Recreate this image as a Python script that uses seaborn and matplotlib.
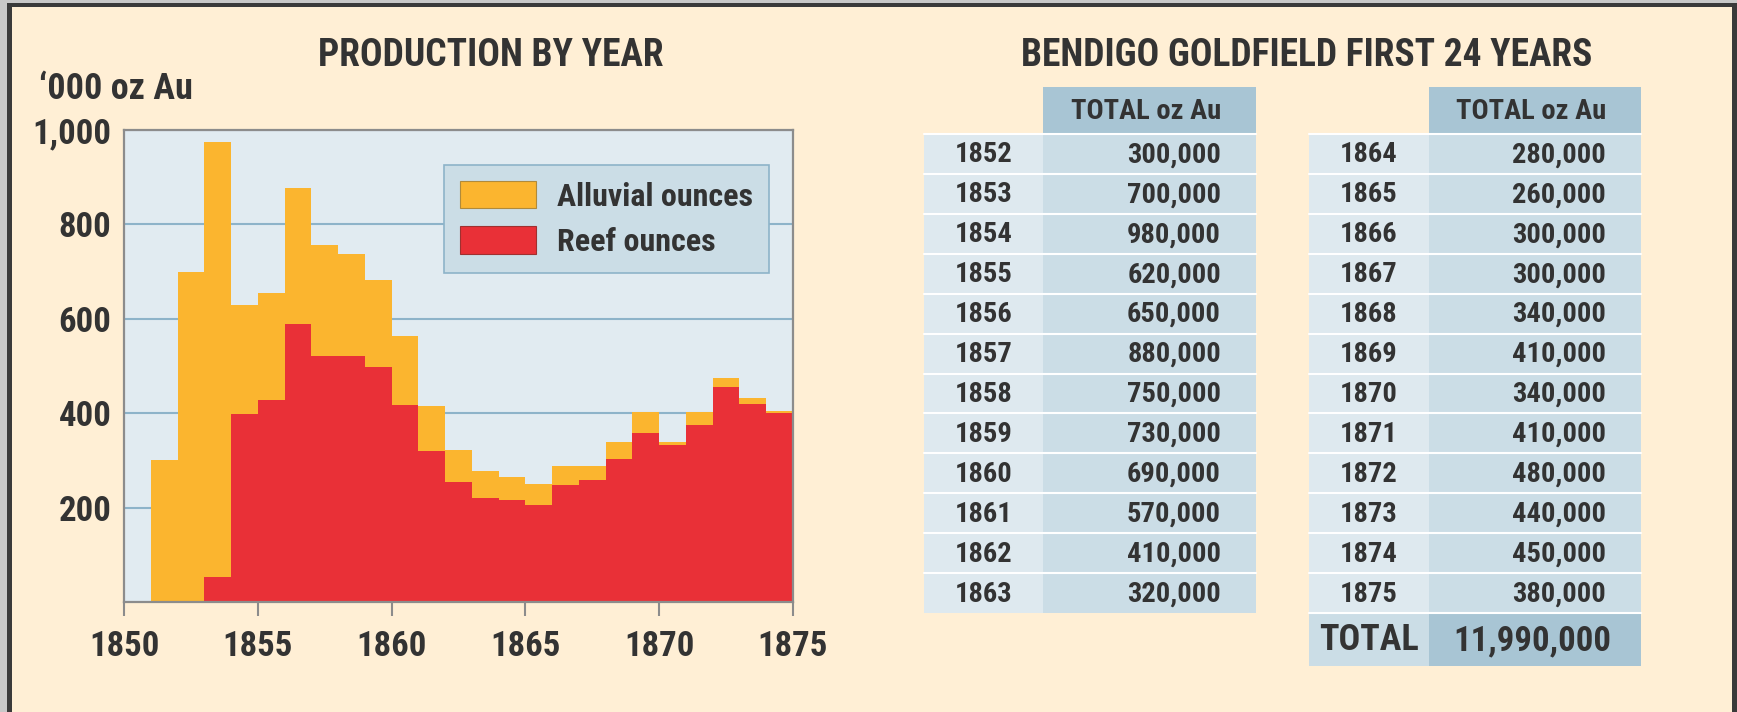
import numpy as np
import pandas as pd
import seaborn as sns
import matplotlib.pyplot as plt
from matplotlib.patches import Patch, Rectangle

# ---------------------------------------------------------------------------
# chart data ('000 oz Au), each bar covers [year, year + 1]
bar_years = [1851, 1852, 1853, 1854, 1855, 1856, 1857, 1858, 1859, 1860, 1861, 1862,
             1863, 1864, 1865, 1866, 1867, 1868, 1869, 1870, 1871, 1872, 1873, 1874]
total_oz = [300, 700, 975, 630, 655, 877, 756, 737, 682, 564, 416, 322,
            277, 265, 249, 289, 289, 339, 402, 339, 402, 475, 433, 404]
reef_oz = [0, 0, 53, 399, 428, 589, 521, 521, 497, 418, 320, 255,
           220, 217, 206, 247, 258, 303, 358, 332, 376, 455, 420, 401]

x_ticks = [1850, 1855, 1860, 1865, 1870, 1875]
y_ticks = [200, 400, 600, 800, 1000]
y_ticklabels = ['200', '400', '600', '800', '1,000']

# table data
tbl_years_a = [1852, 1853, 1854, 1855, 1856, 1857, 1858, 1859, 1860, 1861, 1862, 1863]
tbl_oz_a = [300000, 700000, 980000, 620000, 650000, 880000,
            750000, 730000, 690000, 570000, 410000, 320000]
tbl_years_b = [1864, 1865, 1866, 1867, 1868, 1869, 1870, 1871, 1872, 1873, 1874, 1875]
tbl_oz_b = [280000, 260000, 300000, 300000, 340000, 410000,
            340000, 410000, 480000, 440000, 450000, 380000]

# colours
CREAM = '#FFEFD5'
PLOT_BG = '#E1EBF1'
GRID = '#8DB3C9'
ORANGE = '#FBB52F'
RED = '#E93037'
TXT = '#333333'
HEAD = '#A8C5D4'
VALCELL = '#CBDDE6'
YEARCELL = '#DEE9EF'

sns.set_style('white')
plt.rcParams['font.family'] = ['Roboto Condensed', 'Liberation Sans', 'DejaVu Sans']
plt.rcParams['font.weight'] = 'bold'

W, H = 1737, 712
fig = plt.figure(figsize=(W / 100, H / 100), dpi=100, facecolor=CREAM)

# background layer in pixel coords (frame + table)
bg = fig.add_axes([0, 0, 1, 1], zorder=-1)
bg.set_xlim(0, W)
bg.set_ylim(H, 0)
bg.axis('off')
bg.add_patch(Rectangle((0, 0), 7, H, color='#C8C8C8', lw=0))
bg.add_patch(Rectangle((7, 3), 5, H, color='#3A3A3A', lw=0))
bg.add_patch(Rectangle((7, 3), W, 4, color='#3A3A3A', lw=0))
bg.add_patch(Rectangle((0, 0), W, 3, color='#C8C8C8', lw=0))
bg.add_patch(Rectangle((W - 5, 3), 5, H, color='#3A3A3A', lw=0))

# ---------------------------------------------------------------------------
# production chart
ax = fig.add_axes([124 / W, 1 - 602 / H, 669 / W, 472 / H], zorder=1)
ax.set_facecolor(PLOT_BG)
bins = bar_years + [bar_years[-1] + 1]
sns.histplot(x=bar_years, weights=total_oz, bins=bins, element='bars', fill=True,
             color=ORANGE, alpha=1, linewidth=0, ax=ax, zorder=2)
sns.histplot(x=bar_years, weights=reef_oz, bins=bins, element='bars', fill=True,
             color=RED, alpha=1, linewidth=0, ax=ax, zorder=3)

ax.set_xlim(1850, 1875)
ax.set_ylim(0, 1000)
ax.set_xlabel('')
ax.set_ylabel('')
ax.set_xticks(x_ticks)
ax.set_xticklabels([str(t) for t in x_ticks], fontsize=25, fontweight='bold', color=TXT)
ax.set_yticks(y_ticks)
ax.set_yticklabels(y_ticklabels, fontsize=25, fontweight='bold', color=TXT)
ax.tick_params(axis='x', direction='out', length=10, width=1.5, color='#8C8C8C',
               pad=10, bottom=True)
ax.tick_params(axis='y', length=0, pad=9, left=True)
ax.set_axisbelow(True)
ax.yaxis.grid(True, color=GRID, linewidth=1.5)
ax.xaxis.grid(False)
for s in ax.spines.values():
    s.set_visible(True)
    s.set_color('#8C8C8C')
    s.set_linewidth(1.6)
    s.set_zorder(5)

handles = [Patch(facecolor=ORANGE, edgecolor='#B08A3A', linewidth=0.8),
           Patch(facecolor=RED, edgecolor='#A03030', linewidth=0.8)]
leg = ax.legend(handles, ['Alluvial ounces', 'Reef ounces'], loc='upper right',
                bbox_to_anchor=(0.964, 0.926), fontsize=23, frameon=True,
                fancybox=False, framealpha=1, facecolor=VALCELL, edgecolor=GRID,
                handlelength=2.4, handleheight=0.95, handletextpad=0.65,
                labelspacing=0.45, borderpad=0.5, borderaxespad=0)
leg.get_frame().set_linewidth(1.2)
for t in leg.get_texts():
    t.set_color(TXT)
    t.set_fontweight('bold')

fig.text(491 / W, 1 - 55 / H, 'PRODUCTION BY YEAR', ha='center', va='center',
         fontsize=27, fontweight='bold', color=TXT)
fig.text(39 / W, 1 - 89 / H, '\u2018000 oz Au', ha='left', va='center',
         fontsize=26, fontweight='bold', color=TXT)

# ---------------------------------------------------------------------------
# table
fig.text(1307 / W, 1 - 55 / H, 'BENDIGO GOLDFIELD FIRST 24 YEARS', ha='center',
         va='center', fontsize=27, fontweight='bold', color=TXT)

head_top, head_bot = 87, 134
row_h = (613 - 134) / 12


def draw_table(x_year, x_val, x_end, years, vals):
    bg.add_patch(Rectangle((x_val, head_top), x_end - x_val, head_bot - head_top,
                           color=HEAD, lw=0))
    bg.text(x_end - 35, (head_top + head_bot) / 2 + 1, 'TOTAL oz Au', ha='right',
            va='center', fontsize=20.5, fontweight='bold', color=TXT)
    for i, (yr, v) in enumerate(zip(years, vals)):
        y0 = head_bot + i * row_h
        bg.add_patch(Rectangle((x_year, y0), x_val - x_year, row_h, color=YEARCELL, lw=0))
        bg.add_patch(Rectangle((x_val, y0), x_end - x_val, row_h, color=VALCELL, lw=0))
        bg.plot([x_year, x_end], [y0, y0], color='white', lw=1.5)
        bg.text((x_year + x_val) / 2, y0 + row_h / 2 + 1, str(yr), ha='center',
                va='center', fontsize=20.5, fontweight='bold', color=TXT)
        bg.text(x_end - 35, y0 + row_h / 2 + 1, f'{v:,}', ha='right',
                va='center', fontsize=20.5, fontweight='bold', color=TXT)


draw_table(924, 1043, 1256, tbl_years_a, tbl_oz_a)
draw_table(1309, 1429, 1641, tbl_years_b, tbl_oz_b)

# total row
tot_top, tot_bot = 613, 666
bg.add_patch(Rectangle((1309, tot_top), 1429 - 1309, tot_bot - tot_top, color=VALCELL, lw=0))
bg.add_patch(Rectangle((1429, tot_top), 1641 - 1429, tot_bot - tot_top, color=HEAD, lw=0))
bg.plot([1309, 1641], [tot_top, tot_top], color='white', lw=1.5)
bg.text((1309 + 1429) / 2, (tot_top + tot_bot) / 2 + 1, 'TOTAL', ha='center',
        va='center', fontsize=26, fontweight='bold', color=TXT)
bg.text(1641 - 30, (tot_top + tot_bot) / 2 + 1, f'{sum(tbl_oz_a) + sum(tbl_oz_b):,}',
        ha='right', va='center', fontsize=25, fontweight='bold', color=TXT)

fig.savefig('out.png', dpi=100, facecolor=CREAM)
